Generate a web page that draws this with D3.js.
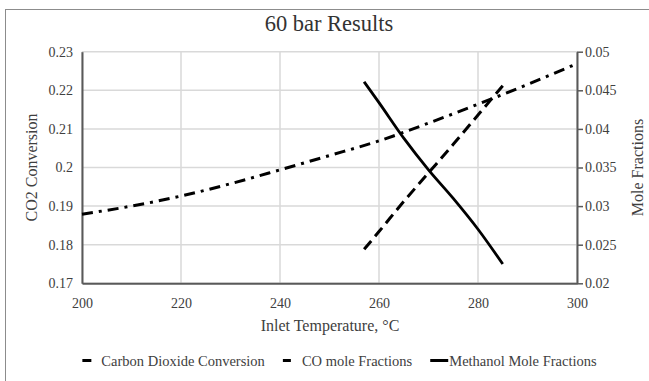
<!DOCTYPE html>
<html>
<head>
<meta charset="utf-8">
<script src="https://cdn.jsdelivr.net/npm/d3@7"></script>
<style>
  body { margin: 0; background: #fff; }
  svg, svg text { font-family: "Liberation Serif", "Times New Roman", serif !important; }
</style>
</head>
<body>
<div id="chart"></div>
<script>
// CO2 conversion, left axis
var co2Temps = [200, 210, 220, 230, 240, 250, 260, 270, 280, 290, 300];
var co2Conversion = [0.1879, 0.1900, 0.1926, 0.1958, 0.1994, 0.2031, 0.2069, 0.2115, 0.2164, 0.2215, 0.2269];

// mole fractions, right axis
var moleTemps = [257, 260, 265, 270, 275, 280, 285];
var coFractions = [0.0244, 0.0267, 0.0306, 0.0343, 0.0380, 0.0418, 0.0456];
var methanolFractions = [0.0461, 0.0434, 0.0388, 0.0347, 0.0310, 0.0270, 0.0225];

var xTicks = [200, 220, 240, 260, 280, 300];
var leftTicks = [0.17, 0.18, 0.19, 0.2, 0.21, 0.22, 0.23];
var rightTicks = [0.02, 0.025, 0.03, 0.035, 0.04, 0.045, 0.05];

var seriesNames = ["Carbon Dioxide Conversion", "CO mole Fractions", "Methanol Mole Fractions"];

var width = 649, height = 381;
var margin = { left: 82, right: 72, top: 51.7, bottom: 97.7 };
var plotW = width - margin.left - margin.right;
var plotH = height - margin.top - margin.bottom;
var serif = '"Liberation Serif", "Times New Roman", serif';

var svg = d3.select("#chart").append("svg")
  .attr("width", width)
  .attr("height", height);

// chart frame
svg.append("rect")
  .attr("x", 5.5).attr("y", 9.5)
  .attr("width", 700).attr("height", 400)
  .attr("fill", "none")
  .attr("stroke", "#8c8c8c")
  .attr("stroke-width", 1);

var x = d3.scaleLinear().domain([200, 300]).range([0, plotW]);
var yL = d3.scaleLinear().domain([0.17, 0.23]).range([plotH, 0]);
var yR = d3.scaleLinear().domain([0.02, 0.05]).range([plotH, 0]);

var g = svg.append("g")
  .attr("transform", "translate(" + margin.left + "," + margin.top + ")");

// gridlines
g.append("g")
  .selectAll("line")
  .data(leftTicks)
  .enter().append("line")
  .attr("x1", 0).attr("x2", plotW)
  .attr("y1", function (d) { return yL(d); })
  .attr("y2", function (d) { return yL(d); })
  .attr("stroke", "#d9d9d9").attr("stroke-width", 1.5);

g.append("g")
  .selectAll("line")
  .data(xTicks)
  .enter().append("line")
  .attr("x1", function (d) { return x(d); })
  .attr("x2", function (d) { return x(d); })
  .attr("y1", 0).attr("y2", plotH)
  .attr("stroke", "#d9d9d9").attr("stroke-width", 1.5);

// x axis
var xAxis = g.append("g")
  .attr("transform", "translate(0," + plotH + ")")
  .call(d3.axisBottom(x).tickValues(xTicks).tickSize(0).tickPadding(15).tickFormat(d3.format("d")));
xAxis.select(".domain").attr("stroke", "#595959").attr("stroke-width", 2);

// left axis
var leftAxis = g.append("g")
  .call(d3.axisLeft(yL).tickValues(leftTicks).tickSize(0).tickPadding(9).tickFormat(function (d) { return String(+d.toFixed(2)); }));
leftAxis.select(".domain").attr("stroke", "#595959").attr("stroke-width", 2);

// right axis
var rightAxis = g.append("g")
  .attr("transform", "translate(" + plotW + ",0)")
  .call(d3.axisRight(yR).tickValues(rightTicks).tickSize(6).tickSizeOuter(0).tickPadding(2).tickFormat(function (d) { return String(+d.toFixed(3)); }));
rightAxis.select(".domain").attr("stroke", "#595959").attr("stroke-width", 2);
rightAxis.selectAll(".tick line").attr("stroke", "#595959").attr("stroke-width", 1.5);

[xAxis, leftAxis, rightAxis].forEach(function (a) {
  a.attr("font-family", null).attr("font-size", null);
  a.selectAll(".tick text")
    .style("font-family", serif)
    .style("font-size", "14px")
    .attr("fill", "#404040");
});

// series
var lineCO2 = d3.line()
  .x(function (d, i) { return x(co2Temps[i]); })
  .y(function (d) { return yL(d); })
  .curve(d3.curveMonotoneX);

var lineMole = d3.line()
  .x(function (d, i) { return x(moleTemps[i]); })
  .y(function (d) { return yR(d); })
  .curve(d3.curveMonotoneX);

g.append("path")
  .datum(co2Conversion)
  .attr("d", lineCO2)
  .attr("fill", "none")
  .attr("stroke", "#000")
  .attr("stroke-width", 3)
  .attr("stroke-dasharray", "11,6,3,6");

g.append("path")
  .datum(coFractions)
  .attr("d", lineMole)
  .attr("fill", "none")
  .attr("stroke", "#000")
  .attr("stroke-width", 3)
  .attr("stroke-dasharray", "11,6");

g.append("path")
  .datum(methanolFractions)
  .attr("d", lineMole)
  .attr("fill", "none")
  .attr("stroke", "#000")
  .attr("stroke-width", 2.8);

// titles
svg.append("text")
  .attr("x", 329).attr("y", 31)
  .attr("text-anchor", "middle")
  .style("font-family", serif)
  .style("font-size", "22.5px")
  .attr("fill", "#333")
  .text("60 bar Results");

svg.append("text")
  .attr("x", 330).attr("y", 331)
  .attr("text-anchor", "middle")
  .style("font-family", serif)
  .style("font-size", "16px")
  .attr("fill", "#404040")
  .text("Inlet Temperature, °C");

svg.append("text")
  .attr("transform", "translate(31.7,167.5) rotate(-90)")
  .attr("dy", "0.35em")
  .attr("text-anchor", "middle")
  .style("font-family", serif)
  .style("font-size", "16px")
  .attr("fill", "#404040")
  .text("CO2 Conversion");

svg.append("text")
  .attr("transform", "translate(637,167.5) rotate(-90)")
  .attr("dy", "0.35em")
  .attr("text-anchor", "middle")
  .style("font-family", serif)
  .style("font-size", "16px")
  .attr("fill", "#404040")
  .text("Mole Fractions");

// legend
var legendDash = ["9,30", "8,30", null];
var legend = svg.append("g");
var lx = 0;
seriesNames.forEach(function (name, i) {
  var item = legend.append("g").attr("transform", "translate(" + lx + ",0)");
  item.append("line")
    .attr("x1", 0).attr("x2", 18)
    .attr("y1", 0).attr("y2", 0)
    .attr("stroke", "#000")
    .attr("stroke-width", 3)
    .attr("stroke-dasharray", legendDash[i]);
  var t = item.append("text")
    .attr("x", 19).attr("y", 5)
    .style("font-family", serif)
    .style("font-size", "14.5px")
    .attr("fill", "#404040")
    .text(name);
  lx += 19 + t.node().getComputedTextLength() + 18;
});
var legendW = lx - 18;
legend.attr("transform", "translate(" + (339.5 - legendW / 2) + ",360.5)");
</script>
</body>
</html>
